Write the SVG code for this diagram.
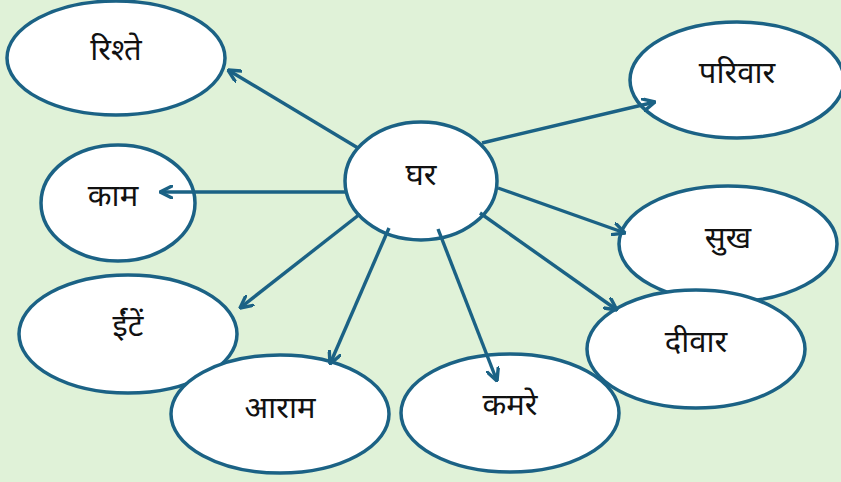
<svg xmlns="http://www.w3.org/2000/svg" width="841" height="482" viewBox="0 0 841 482">
<defs>
<style>
.n ellipse{fill:#fff;stroke:#1b6285;stroke-width:3.5}
.n text{font-family:"Noto Sans","Noto Sans Devanagari","Lohit Devanagari",sans-serif;font-size:31px;font-weight:400;fill:#111;text-anchor:middle}
.e line{stroke:#1b6285;stroke-width:3.4;fill:none}
</style>
<marker id="ah" viewBox="0 0 14 14" refX="13" refY="7" markerWidth="14" markerHeight="14" markerUnits="userSpaceOnUse" orient="auto">
<path d="M1,1 L13,7 L1,13" fill="none" stroke="#1b6285" stroke-width="3.4" stroke-linecap="round" stroke-linejoin="round"/>
</marker>
</defs>
<rect width="841" height="482" fill="#e0f2d8"/>
<g id="node-rishte" class="n"><ellipse cx="116" cy="58" rx="109" ry="57"/><text x="116" y="60">रिश्ते</text></g>
<g id="node-parivar" class="n"><ellipse cx="737" cy="80" rx="107" ry="58"/><text x="737" y="83">परिवार</text></g>
<g id="node-kaam" class="n"><ellipse cx="118" cy="203" rx="77" ry="58"/><text x="113" y="206">काम</text></g>
<g id="node-sukh" class="n"><ellipse cx="728" cy="244" rx="109" ry="58"/><text x="728" y="248">सुख</text></g>
<g id="node-eent" class="n"><ellipse cx="128" cy="334" rx="109" ry="59"/><text x="128" y="336">ईंटें</text></g>
<g id="node-deevar" class="n"><ellipse cx="696" cy="349" rx="109" ry="59"/><text x="696" y="352">दीवार</text></g>
<g id="node-aaram" class="n"><ellipse cx="280" cy="414" rx="109" ry="59"/><text x="280" y="418">आराम</text></g>
<g id="node-kamre" class="n"><ellipse cx="510" cy="413" rx="109" ry="59"/><text x="510" y="415">कमरे</text></g>
<g id="node-ghar" class="n"><ellipse cx="421" cy="181" rx="76" ry="59"/><text x="421" y="185">घर</text></g>
<g id="connectors" class="e">
<line x1="358" y1="148" x2="228" y2="70" marker-end="url(#ah)"/>
<line x1="482" y1="143" x2="655" y2="102" marker-end="url(#ah)"/>
<line x1="345" y1="192" x2="160" y2="192" marker-end="url(#ah)"/>
<line x1="498" y1="188" x2="625" y2="233" marker-end="url(#ah)"/>
<line x1="360" y1="214" x2="240" y2="308" marker-end="url(#ah)"/>
<line x1="480" y1="213" x2="617" y2="310" marker-end="url(#ah)"/>
<line x1="389" y1="228" x2="330" y2="364" marker-end="url(#ah)"/>
<line x1="438" y1="229" x2="497" y2="381" marker-end="url(#ah)"/>
</g>
</svg>
